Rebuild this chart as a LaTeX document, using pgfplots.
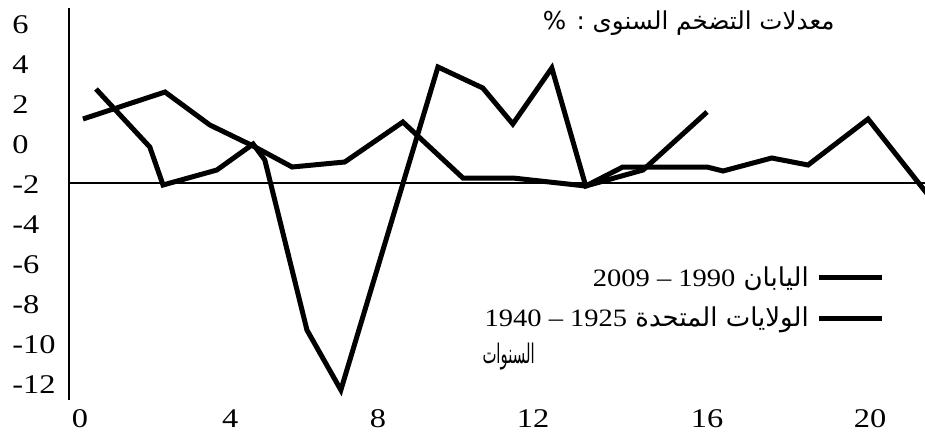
\documentclass[border=0pt]{standalone}
\usepackage{fontspec}
\setmainfont{Liberation Serif}
\newfontfamily\tickfont{Liberation Serif}[FakeStretch=1.2]
\newfontfamily\legfont{Liberation Serif}[FakeStretch=1.14]
\newfontfamily\arabicfont[Script=Arabic]{DejaVu Sans}
\newfontfamily\arabicnarrow[Script=Arabic, FakeStretch=0.55]{DejaVu Sans}
\TeXXeTstate=1
\usepackage{pgfplots}
\pgfplotsset{compat=1.18}
\pgfplotstableread{
x y
0.077 1.3
2.18 2.65
3.33 1.0
4.44 -0.05
5.44 -1.1
6.79 -0.85
8.28 1.15
9.82 -1.65
11.10 -1.65
12.97 -2.05
13.92 -1.1
16.08 -1.1
16.49 -1.3
17.74 -0.65
18.67 -1.0
20.21 1.3
21.75 -2.5
}\japan
\pgfplotstableread{
x y
0.41 2.8
1.79 -0.1
2.13 -2.0
3.51 -1.25
4.44 0.05
4.74 -0.75
5.82 -9.25
6.69 -12.25
9.18 3.9
10.33 2.85
11.10 1.05
12.10 3.85
12.97 -2.05
14.44 -1.25
16.08 1.65
}\usa
\begin{document}
\begin{tikzpicture}
\begin{axis}[
 scale only axis, width=428pt, height=196pt,
 xmin=-0.282, xmax=21.67, ymin=-12.75, ymax=6.85,
 axis line style={draw=none},
 clip mode=individual,
 major tick length=0pt,
 xtick={0,3.85,7.64,11.62,16.08,20.26},
 xticklabels={0,4,8,12,16,20},
 ytick={-12,-10,...,6},
 /pgf/number format/assume math mode=true,
 tick label style={font=\tickfont\fontsize{13.5}{15}\selectfont},
 yticklabel style={anchor=west, inner sep=0pt, xshift=-28.5pt},
 xticklabel style={inner sep=0pt, yshift=-4.5pt},
 legend plot pos=right,
 legend cell align=right,
 legend image code/.code={\path (0pt,0pt); \draw[line width=2.5pt] (2.5pt,0pt) -- (34pt,0pt);},
 legend style={draw=none, fill=none, at={(axis cs:20.65,-7.65)}, anchor=east,
   inner sep=0pt, row sep=6pt, column sep=0pt, nodes={inner sep=1.5pt},
   font=\fontsize{12.5}{14}\selectfont},
]
\addplot[line width=1pt, black, forget plot] coordinates {(-0.282,-1.9) (21.67,-1.9)};
\addplot[line width=2.5pt, black] table[x=x,y=y] {\japan};
\addlegendentry{{\arabicfont\fontsize{13}{14}\selectfont\beginR اليابان \beginL{\legfont\fontsize{12.5}{14}\selectfont 2009 – 1990}\endL\endR}}
\addplot[line width=2.5pt, black] table[x=x,y=y] {\usa};
\addlegendentry{{\arabicfont\fontsize{13}{14}\selectfont\beginR الولايات المتحدة \beginL{\legfont\fontsize{12.5}{14}\selectfont 1940 – 1925}\endL\endR}}
\draw[line width=1.25pt] (rel axis cs:0,0) -- (rel axis cs:0,1);
\node[anchor=east, inner sep=0pt, font=\arabicfont\fontsize{12.3}{14}\selectfont] at (axis cs:19.36,6.1) {\beginR معدلات التضخم السنوى : \%\endR};
\node[anchor=east, inner sep=0pt, font=\arabicnarrow\fontsize{13.5}{15}\selectfont] at (axis cs:11.67,-10.6) {\beginR السنوات\endR};
\end{axis}
\pgfresetboundingbox
\path ([shift={(-34.5pt,-20pt)}]current axis.south west) rectangle ([shift={(0pt,4pt)}]current axis.north east);
\end{tikzpicture}
\end{document}
